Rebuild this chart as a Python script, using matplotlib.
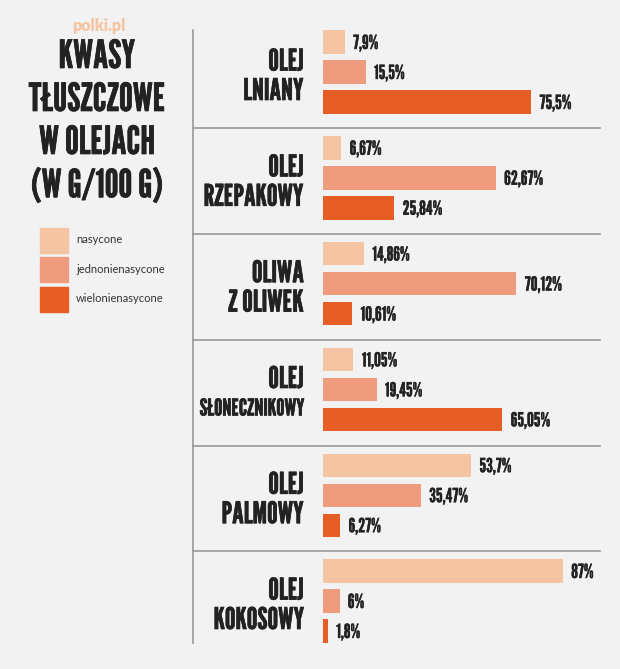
import matplotlib
matplotlib.use("Agg")
import matplotlib.pyplot as plt
import matplotlib.patheffects as pe
from matplotlib import font_manager
from matplotlib.lines import Line2D
from matplotlib.patches import Rectangle

oils = ["OLEJ\nLNIANY", "OLEJ\nRZEPAKOWY", "OLIWA\nZ OLIWEK", "OLEJ\nSŁONECZNIKOWY",
        "OLEJ\nPALMOWY", "OLEJ\nKOKOSOWY"]
nasycone = [7.9, 6.67, 14.86, 11.05, 53.7, 87]
jednonienasycone = [15.5, 62.67, 70.12, 19.45, 35.47, 6]
wielonienasycone = [75.5, 25.84, 10.61, 65.05, 6.27, 1.8]
nas_lbl = ["7,9%", "6,67%", "14,86%", "11,05%", "53,7%", "87%"]
jed_lbl = ["15,5%", "62,67%", "70,12%", "19,45%", "35,47%", "6%"]
wie_lbl = ["75,5%", "25,84%", "10,61%", "65,05%", "6,27%", "1,8%"]
series_names = ["nasycone", "jednonienasycone", "wielonienasycone"]
title_lines = ["KWASY", "TŁUSZCZOWE", "W OLEJACH", "(W G/100 G)"]
colors = ["#f5c4a3", "#ef9b7d", "#e65d25"]

# narrow display font, whichever is installed first
names = {f.name for f in font_manager.fontManager.ttflist}
cond = "DejaVu Sans"
for cand in ["League Gothic", "Bebas Neue", "Oswald", "Roboto Condensed"]:
    if cand in names:
        cond = cand
        break
cfam = [cond, "DejaVu Sans"]

bg = "#f2f2f2"
ink = "#222222"
grey = "#999999"
# a thin stroke makes the gothic face look a bit heavier
heavy = [pe.withStroke(linewidth=0.5, foreground=ink)]
medium = [pe.withStroke(linewidth=0.25, foreground=ink)]

W, H = 620, 669
fig = plt.figure(figsize=(W / 100, H / 100), dpi=100, facecolor=bg)

# bars axes: x from 323px to right edge, y covers full height
ax = fig.add_axes([323 / W, 0, 1 - 323 / W, 1])
ax.set_facecolor("none")
ax.axis("off")
px_per_unit = 240 / 87
ax.set_xlim(0, (W - 323) / px_per_unit)
slot = 30  # px between bars
step = 105.8 / slot  # group step in bar slots
ax.set_ylim((H - 42) / slot, -42 / slot)

series = [nasycone, jednonienasycone, wielonienasycone]
labels = [nas_lbl, jed_lbl, wie_lbl]
for j, (vals, lbls, c) in enumerate(zip(series, labels, colors)):
    ys = [g * step + j for g in range(len(oils))]
    ax.barh(ys, vals, height=0.78, color=c)
    for y, v, t in zip(ys, vals, lbls):
        ax.text(v + 3.0, y + 0.05, t, va="center", ha="left", fontsize=14,
                color=ink, family=cfam, path_effects=medium)

# group labels and separators
lx = -19 / px_per_unit
for g, name in enumerate(oils):
    yc = g * step + 1.15
    first, second = name.split("\n")
    ax.text(lx, yc - 0.48, first, ha="right", va="center", fontsize=21.5,
            color=ink, family=cfam, path_effects=heavy)
    ax.text(lx, yc + 0.5, second, ha="right", va="center",
            fontsize=21.5 if len(second) < 12 else 16.5,
            color=ink, family=cfam, path_effects=heavy)
    if g < len(oils) - 1:
        ysep = g * step + 2.87
        ax.plot([-130 / px_per_unit, 277 / px_per_unit], [ysep, ysep], color=grey,
                lw=1.2, clip_on=False)

# vertical divider
fig.add_artist(Line2D([193 / W, 193 / W], [1 - 30 / H, 1 - 643 / H], color=grey, lw=1.2))

# left panel
fig.text(99 / W, 1 - 26 / H, "polki.pl", ha="center", va="center", fontsize=11.5,
         fontweight="heavy", color="#f5c4a3", family="Lato")
for i, line in enumerate(title_lines):
    fig.text(97 / W, 1 - (57 + 43 * i) / H, line, ha="center", va="center",
             fontsize=28, color=ink, family=cfam, path_effects=heavy)

for i, (nm, c) in enumerate(zip(series_names, colors)):
    yc = 240 + 29.5 * i
    fig.add_artist(Rectangle((40 / W, 1 - (yc + 12.5) / H), 28 / W, 25 / H,
                             color=c, transform=fig.transFigure))
    fig.text(76 / W, 1 - yc / H, nm, ha="left", va="center", fontsize=8,
             color="#333333", family="Lato")

fig.savefig("out.png", dpi=100, facecolor=bg)
